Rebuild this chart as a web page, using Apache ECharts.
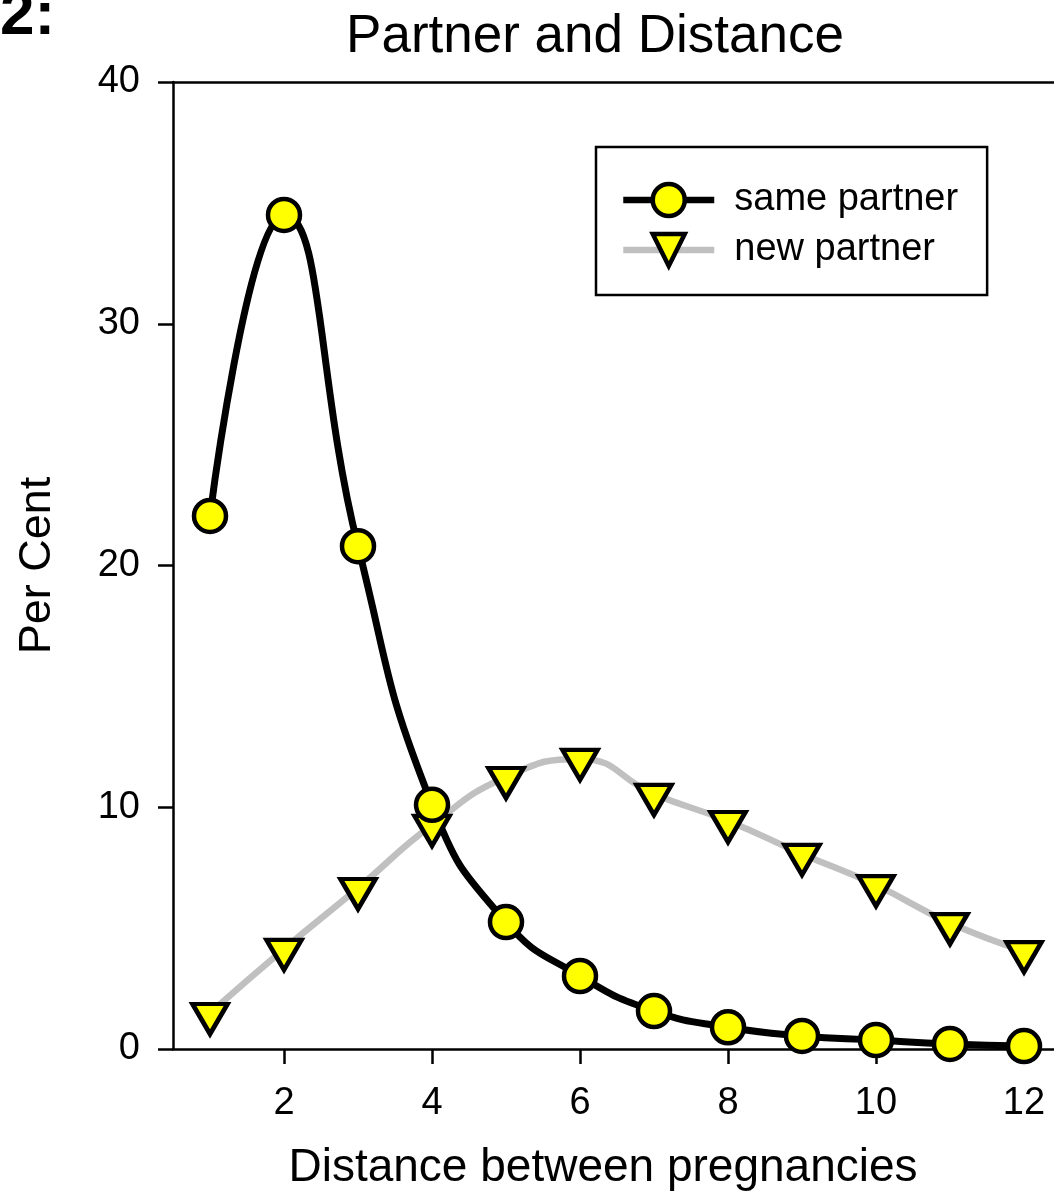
<!DOCTYPE html>
<html>
<head>
<meta charset="utf-8">
<script src="https://cdn.jsdelivr.net/npm/echarts@6/dist/echarts.min.js"></script>
<style>html,body{margin:0;padding:0;background:#fff;}#c{width:1054px;height:1196px;}</style>
</head>
<body>
<div id="c"></div>
<script>
const distance = [1, 2, 3, 4, 5, 6, 7, 8, 9, 10, 11, 12];
const samePartner = [22.05, 34.5, 20.8, 10.1, 5.25, 3.02, 1.57, 0.9, 0.54, 0.37, 0.21, 0.12];
const newPartner = [1.49, 4.14, 6.66, 9.27, 11.25, 12.0, 10.55, 9.43, 8.07, 6.78, 5.21, 4.05];
const xTicks = [2, 4, 6, 8, 10, 12];
const seriesNames = ['same partner', 'new partner'];
const titleText = 'Partner and Distance';
const panelLabel = '2:';
const xName = 'Distance between pregnancies';
const yName = 'Per Cent';

const FONT = "'Liberation Sans', Arial, sans-serif";
const chart = echarts.init(document.getElementById('c'), null, {renderer: 'canvas'});
const toPairs = (xs, ys) => xs.map((x, i) => [x, ys[i]]);

chart.setOption({
  backgroundColor: '#fff',
  animation: false,
  graphic: [
    {type: 'text', left: 0, top: -14, style: {text: panelLabel, font: 'bold 62px ' + FONT, fill: '#000'}},
    {type: 'text', x: 595, y: 37, style: {text: titleText, font: '53px ' + FONT, fill: '#000', textAlign: 'center', textVerticalAlign: 'middle'}}
  ],
  grid: {left: 173, top: 82, right: -7, bottom: 147, containLabel: false, outerBoundsMode: 'none'},
  legend: {
    orient: 'vertical',
    left: 596, top: 147,
    padding: [33, 29, 25, 24],
    borderColor: '#000', borderWidth: 2.5,
    itemWidth: 91, itemHeight: 40, itemGap: 10,
    itemStyle: {borderColor: '#000', borderWidth: 4.5},
    lineStyle: {width: 6.5},
    textStyle: {fontFamily: FONT, fontSize: 38, color: '#000', lineHeight: 40, padding: [0, 0, 0, 15]},
    data: seriesNames
  },
  xAxis: [{
    type: 'value', min: 0.5, max: 12.5,
    name: xName, nameLocation: 'middle', nameGap: 96,
    nameTextStyle: {fontFamily: FONT, fontSize: 46, color: '#000', padding: [0, 28, 0, 0]},
    axisLine: {show: true, lineStyle: {color: '#000', width: 2.5}},
    axisTick: {show: true, inside: false, length: 15, lineStyle: {color: '#000', width: 2.5}, customValues: xTicks},
    axisLabel: {show: true, margin: 36, fontFamily: FONT, fontSize: 38, color: '#000', customValues: xTicks},
    splitLine: {show: false}
  }, {
    type: 'value', min: 0.5, max: 12.5, position: 'top',
    axisLine: {show: true, lineStyle: {color: '#000', width: 2.5}},
    axisTick: {show: false}, axisLabel: {show: false}, splitLine: {show: false}
  }],
  yAxis: {
    type: 'value', min: 0, max: 40, interval: 10,
    name: yName, nameLocation: 'middle', nameGap: 113, nameRotate: 90,
    nameTextStyle: {fontFamily: FONT, fontSize: 45, color: '#000'},
    axisLine: {show: true, lineStyle: {color: '#000', width: 2.5}},
    axisTick: {show: true, inside: false, length: 15, lineStyle: {color: '#000', width: 2.5}},
    axisLabel: {margin: 33, fontFamily: FONT, fontSize: 38, color: '#000'},
    splitLine: {show: false}
  },
  series: [{
    name: seriesNames[1], type: 'line', xAxisIndex: 0,
    data: toPairs(distance, newPartner),
    smooth: 0.5,
    symbol: 'triangle', symbolSize: [35, 30], symbolRotate: 180, symbolOffset: [0, 6],
    lineStyle: {color: '#c0c0c0', width: 6.5},
    itemStyle: {color: '#ffff00', borderColor: '#000', borderWidth: 4.5},
    z: 2
  }, {
    name: seriesNames[0], type: 'line', xAxisIndex: 0,
    data: toPairs(distance, samePartner),
    smooth: 0.5,
    symbol: 'circle', symbolSize: 32,
    lineStyle: {color: '#000', width: 7},
    itemStyle: {color: '#ffff00', borderColor: '#000', borderWidth: 4.5},
    z: 2
  }]
});
</script>
</body>
</html>
